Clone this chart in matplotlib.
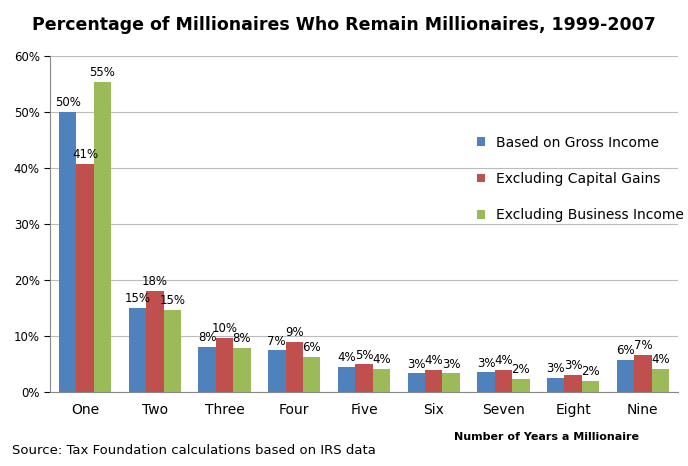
import numpy as np
import matplotlib.pyplot as plt
from matplotlib.ticker import PercentFormatter

categories = ["One", "Two", "Three", "Four", "Five", "Six", "Seven", "Eight", "Nine"]
gross_income = [50.0, 15.0, 8.0, 7.4, 4.4, 3.3, 3.5, 2.5, 5.7]
excl_capital_gains = [40.7, 18.0, 9.6, 8.9, 4.9, 4.0, 4.0, 3.1, 6.6]
excl_business_income = [55.3, 14.6, 7.8, 6.2, 4.1, 3.3, 2.3, 1.9, 4.1]
labels_gross = ["50%", "15%", "8%", "7%", "4%", "3%", "3%", "3%", "6%"]
labels_capital = ["41%", "18%", "10%", "9%", "5%", "4%", "4%", "3%", "7%"]
labels_business = ["55%", "15%", "8%", "6%", "4%", "3%", "2%", "2%", "4%"]


def _create_bar_chart(output_path: str):
    """
    Draw the grouped bar chart and save it to the given path.
    """

    fig = plt.figure(figsize=(6.88, 4.66), dpi=100)
    ax = fig.add_axes([0.073, 0.159, 0.912, 0.721])
    x = np.arange(len(categories))
    width = 0.25

    series = [
        (gross_income, labels_gross, "#4F81BD", "Based on Gross Income"),
        (excl_capital_gains, labels_capital, "#C0504D", "Excluding Capital Gains"),
        (excl_business_income, labels_business, "#9BBB59", "Excluding Business Income"),
    ]
    for i, (values, labels, color, name) in enumerate(series):
        bars = ax.bar(x + (i - 1) * width, values, width, color=color, label=name)
        ax.bar_label(bars, labels=labels, padding=2, fontsize=8.5)

    ax.set_ylim(0, 60)
    ax.set_xlim(-0.5, len(categories) - 0.5)
    ax.set_yticks(range(0, 61, 10))
    ax.yaxis.set_major_formatter(PercentFormatter(decimals=0))
    ax.set_xticks(x)
    ax.set_xticklabels(categories, fontsize=10)
    ax.tick_params(axis='y', labelsize=8.5, length=4)
    ax.tick_params(axis='x', length=0, pad=8)
    ax.grid(axis='y', color='#BBBBBB', linewidth=0.8)
    ax.set_axisbelow(True)
    for side in ['top', 'right']:
        ax.spines[side].set_visible(False)
    ax.spines['left'].set_color('#888888')
    ax.spines['bottom'].set_color('#888888')

    ax.legend(loc='upper left', bbox_to_anchor=(0.66, 0.8), frameon=False,
              fontsize=10, labelspacing=1.6, handlelength=0.6, handleheight=0.6)

    fig.suptitle("Percentage of Millionaires Who Remain Millionaires, 1999-2007",
                 fontweight='bold', fontsize=12.5, y=0.965)
    fig.text(0.66, 0.055, "Number of Years a Millionaire", fontweight='bold', fontsize=8)
    fig.text(0.018, 0.025, "Source: Tax Foundation calculations based on IRS data", fontsize=9.5)

    fig.savefig(output_path, facecolor='white')
    plt.close(fig)  # Close the figure to free memory


_create_bar_chart("out.png")
